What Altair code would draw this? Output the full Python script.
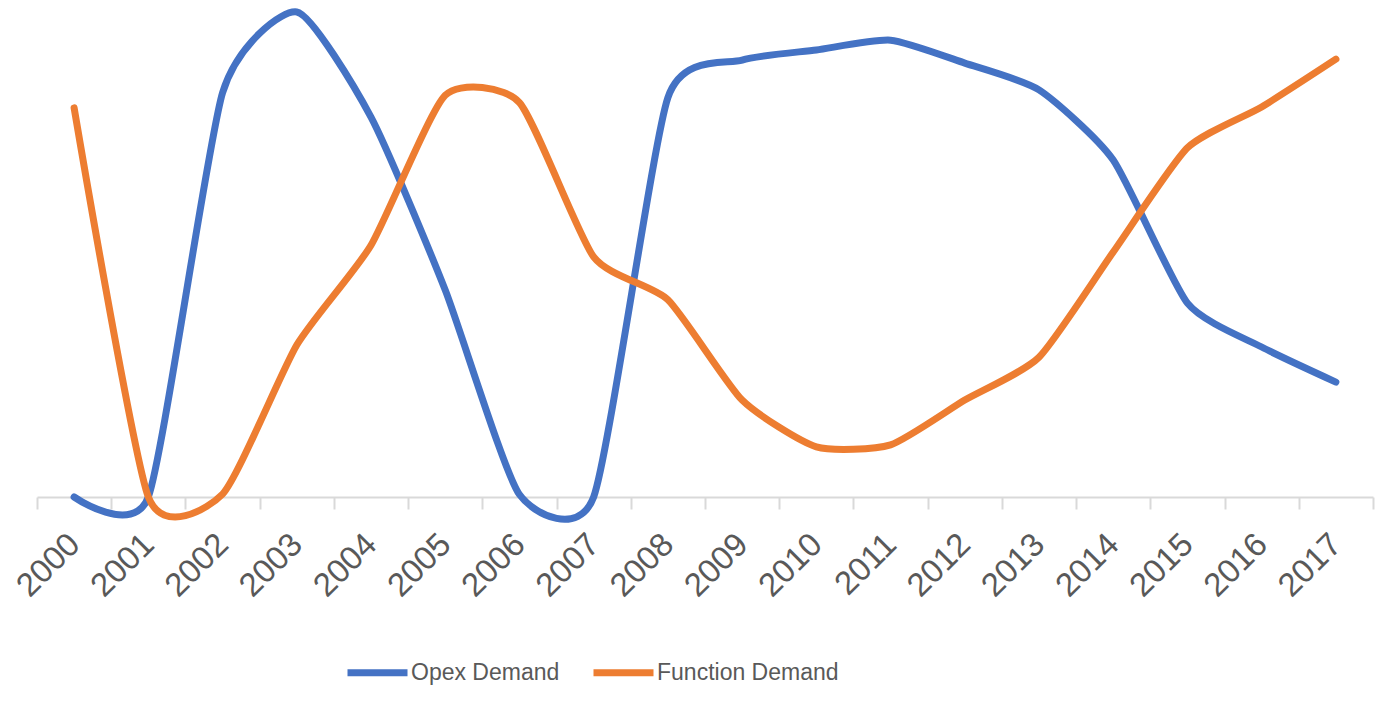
import altair as alt
import pandas as pd

years = [str(y) for y in range(2000, 2018)]
opex = [0, 0, 83, 99.6, 78, 42.5, 0.5, 0, 82, 89.7, 91.8, 93.8, 89.1, 83.6, 69.2, 39.8, 30.8, 23.6]
function = [79.9, 0, 0.6, 31.2, 51.7, 82.5, 81.0, 49.3, 40.5, 19.9, 10.3, 10.7, 19.9, 28.7, 50.3, 71.7, 80.1, 89.9]
series = ["Opex Demand", "Function Demand"]
colors = ["#4472C4", "#ED7D31"]

rows = []
for name, vals in zip(series, [opex, function]):
    for yr, v in zip(years, vals):
        rows.append({"Year": yr, "Value": v, "Series": name})
df = pd.DataFrame(rows)

FONT = "Liberation Sans, Arial, sans-serif"

base = alt.Chart(df).mark_line(
    interpolate="cardinal", tension=0.4, strokeWidth=7, strokeCap="round", strokeJoin="round"
).encode(
    x=alt.X(
        "Year:O", sort=years, bandPosition=0.5,
        scale=alt.Scale(type="band", paddingInner=0, paddingOuter=0),
        axis=alt.Axis(
            title=None, labelAngle=-45, labelAlign="right", labelBaseline="middle",
            labelFontSize=33, labelColor="#595959", labelFont=FONT, labelPadding=30,
            tickBand="extent", tickSize=12, tickColor="#d9d9d9", tickWidth=2,
            domainColor="#d9d9d9", domainWidth=2, grid=False, labelOverlap=False,
        ),
    ),
    y=alt.Y("Value:Q", scale=alt.Scale(domain=[0, 100], nice=False, zero=False), axis=None),
    color=alt.Color(
        "Series:N",
        scale=alt.Scale(domain=series, range=colors),
        legend=alt.Legend(
            orient="none", legendX=307, legendY=629, direction="horizontal", title=None,
            symbolType="stroke", symbolSize=3600, symbolStrokeWidth=7,
            labelFontSize=23, labelColor="#595959", labelFont=FONT, labelOffset=0,
            columnPadding=19, labelLimit=400, padding=0,
        ),
    ),
)

chart = alt.layer(
    base.transform_filter(alt.datum.Series == series[0]),
    base.transform_filter(alt.datum.Series == series[1]),
).properties(
    width=1336, height=487,
    autosize=alt.AutoSizeParams(type="none"),
    padding={"left": 29, "top": 2, "right": 5, "bottom": 196},
    background="white",
).configure_view(stroke=None)

chart.save("out.html", embed_options={"renderer": "svg", "actions": False})
